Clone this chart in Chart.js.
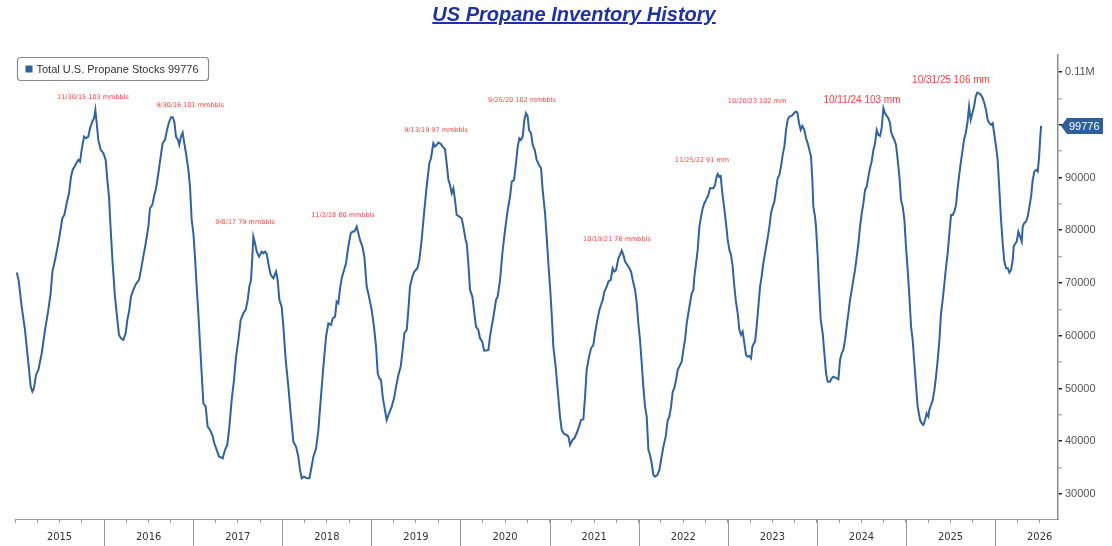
<!DOCTYPE html>
<html>
<head>
<meta charset="utf-8">
<script src="https://cdn.jsdelivr.net/npm/chart.js@4.4.1/dist/chart.umd.min.js"></script>
<style>
  body { margin: 0; background: #fff; }
  #wrap { position: relative; width: 1112px; height: 546px; }
  #title {
    position: absolute; left: 0; top: 3px; width: 1148px; text-align: center;
    font: italic bold 20px "Liberation Sans", Arial, sans-serif; color: #1d33a3;
    text-decoration: underline;
  }
  canvas { position: absolute; left: 0; top: 0; }
</style>
</head>
<body>
<div id="wrap">
  <canvas id="propaneChart" width="1112" height="546"></canvas>
  <div id="title">US Propane Inventory History</div>
</div>
<script>
// weekly stocks, thousand barrels, x = decimal year
const weeks = [
  2015.02, 2015.04, 2015.075, 2015.112, 2015.15, 2015.176, 2015.195, 2015.213, 2015.236, 2015.262,
  2015.30, 2015.337, 2015.374, 2015.40, 2015.42, 2015.449, 2015.479, 2015.505, 2015.531, 2015.554,
  2015.58, 2015.606, 2015.629, 2015.647, 2015.674, 2015.692, 2015.711, 2015.73, 2015.748, 2015.775,
  2015.797, 2015.823, 2015.842, 2015.868, 2015.887, 2015.902, 2015.917, 2015.935, 2015.962, 2015.992,
  2016.018, 2016.036, 2016.055, 2016.074, 2016.096, 2016.122, 2016.149, 2016.167, 2016.19, 2016.216,
  2016.242, 2016.261, 2016.283, 2016.302, 2016.328, 2016.358, 2016.392, 2016.414, 2016.44, 2016.467,
  2016.497, 2016.515, 2016.541, 2016.564, 2016.583, 2016.609, 2016.635, 2016.657, 2016.684, 2016.702,
  2016.725, 2016.751, 2016.77, 2016.788, 2016.807, 2016.826, 2016.844, 2016.863, 2016.882, 2016.897,
  2016.919, 2016.946, 2016.964, 2016.983, 2017.002, 2017.02, 2017.039, 2017.058, 2017.076, 2017.095,
  2017.114, 2017.14, 2017.162, 2017.189, 2017.215, 2017.237, 2017.264, 2017.29, 2017.32,
  2017.331, 2017.357, 2017.383, 2017.406, 2017.432, 2017.458, 2017.481, 2017.507, 2017.533, 2017.563,
  2017.589, 2017.612, 2017.63, 2017.649, 2017.664, 2017.675, 2017.694, 2017.713, 2017.739, 2017.769,
  2017.787, 2017.806, 2017.825, 2017.843, 2017.87, 2017.90, 2017.93, 2017.948, 2017.967, 2017.993,
  2018.012, 2018.038, 2018.068, 2018.094, 2018.124, 2018.154, 2018.18, 2018.199, 2018.218, 2018.244,
  2018.274, 2018.304, 2018.322, 2018.349, 2018.379, 2018.405, 2018.431, 2018.461, 2018.491, 2018.517,
  2018.547, 2018.566, 2018.592, 2018.61, 2018.629, 2018.648, 2018.667, 2018.693, 2018.715, 2018.741,
  2018.768, 2018.79, 2018.809, 2018.835, 2018.854, 2018.872, 2018.899, 2018.921, 2018.947, 2018.973,
  2019.003, 2019.029, 2019.052, 2019.071, 2019.089, 2019.108, 2019.127, 2019.145, 2019.172, 2019.198,
  2019.228, 2019.254, 2019.277, 2019.303, 2019.329, 2019.351, 2019.37, 2019.396, 2019.415, 2019.433,
  2019.46, 2019.482, 2019.516, 2019.538, 2019.564, 2019.591, 2019.62, 2019.65, 2019.669,
  2019.695, 2019.714, 2019.733, 2019.752, 2019.778, 2019.80, 2019.826, 2019.845, 2019.864, 2019.882,
  2019.901, 2019.92, 2019.938, 2019.957, 2019.987, 2020.013, 2020.032, 2020.058, 2020.07, 2020.088,
  2020.107, 2020.133, 2020.156, 2020.174, 2020.20, 2020.219, 2020.245, 2020.264, 2020.294, 2020.313,
  2020.331, 2020.35, 2020.376, 2020.399, 2020.417, 2020.444, 2020.47, 2020.50, 2020.53, 2020.556,
  2020.575, 2020.601, 2020.623, 2020.642, 2020.661, 2020.679, 2020.698, 2020.717, 2020.735, 2020.754,
  2020.769, 2020.792, 2020.81, 2020.833, 2020.855, 2020.881, 2020.904, 2020.922, 2020.949, 2020.967,
  2020.986, 2021.005, 2021.023, 2021.042, 2021.068, 2021.091, 2021.117, 2021.136, 2021.162, 2021.192,
  2021.211, 2021.229, 2021.256, 2021.278, 2021.304, 2021.33, 2021.353, 2021.379, 2021.398, 2021.416,
  2021.443, 2021.465, 2021.491, 2021.51, 2021.536, 2021.559, 2021.577, 2021.596, 2021.615, 2021.641,
  2021.66, 2021.686, 2021.708, 2021.727, 2021.746, 2021.772, 2021.791, 2021.809, 2021.828, 2021.847,
  2021.873, 2021.895, 2021.914, 2021.933, 2021.959, 2021.978, 2021.996, 2022.015, 2022.034, 2022.052,
  2022.071, 2022.09, 2022.109, 2022.127, 2022.146, 2022.165, 2022.183, 2022.21, 2022.232, 2022.251,
  2022.277, 2022.303, 2022.326, 2022.344, 2022.363, 2022.382, 2022.40, 2022.419, 2022.438, 2022.456,
  2022.483, 2022.501, 2022.52, 2022.539, 2022.557, 2022.576, 2022.595, 2022.614, 2022.625, 2022.644,
  2022.662, 2022.681, 2022.70, 2022.718, 2022.737, 2022.756, 2022.782, 2022.801, 2022.819, 2022.838,
  2022.857, 2022.875, 2022.887, 2022.902, 2022.92, 2022.939, 2022.958, 2022.98, 2022.999, 2023.018,
  2023.036, 2023.055, 2023.07, 2023.089, 2023.111, 2023.13, 2023.149, 2023.167, 2023.186, 2023.205,
  2023.223, 2023.242, 2023.261, 2023.276, 2023.294, 2023.306, 2023.324, 2023.343, 2023.362, 2023.38,
  2023.399, 2023.418, 2023.444, 2023.467, 2023.485, 2023.504, 2023.523, 2023.541, 2023.56, 2023.579,
  2023.597, 2023.616, 2023.635, 2023.654, 2023.672, 2023.691, 2023.717, 2023.743, 2023.762, 2023.781,
  2023.80, 2023.818, 2023.837, 2023.859, 2023.878, 2023.897, 2023.916, 2023.934, 2023.949, 2023.96,
  2023.979, 2023.99, 2024.009, 2024.024, 2024.043, 2024.065, 2024.084, 2024.103, 2024.121, 2024.147,
  2024.166, 2024.185, 2024.222, 2024.241, 2024.26, 2024.278, 2024.297, 2024.316, 2024.334, 2024.353,
  2024.372, 2024.391, 2024.409,
  2024.428, 2024.447, 2024.466, 2024.484, 2024.503, 2024.522, 2024.54, 2024.559, 2024.578, 2024.596,
  2024.615, 2024.634, 2024.653, 2024.671, 2024.69, 2024.709, 2024.727, 2024.746, 2024.765, 2024.784,
  2024.802, 2024.821, 2024.832, 2024.851, 2024.87, 2024.888, 2024.907, 2024.926, 2024.944, 2024.963,
  2024.982, 2025.00, 2025.019, 2025.038, 2025.057, 2025.075, 2025.094, 2025.113, 2025.131, 2025.158,
  2025.176, 2025.195, 2025.214, 2025.232, 2025.251, 2025.262, 2025.281, 2025.30, 2025.319, 2025.337,
  2025.356, 2025.375, 2025.393, 2025.412, 2025.431, 2025.45, 2025.468, 2025.487, 2025.506, 2025.524,
  2025.543, 2025.562, 2025.577, 2025.595, 2025.614, 2025.633, 2025.651, 2025.67, 2025.689, 2025.708,
  2025.726, 2025.745, 2025.764, 2025.782, 2025.801, 2025.82, 2025.842, 2025.861, 2025.88, 2025.898,
  2025.917, 2025.936, 2025.955, 2025.973, 2025.992, 2026.011, 2026.029, 2026.048, 2026.067, 2026.085,
  2026.104, 2026.123, 2026.142, 2026.16, 2026.179, 2026.198, 2026.209, 2026.228, 2026.243, 2026.261,
  2026.28, 2026.299, 2026.31, 2026.325, 2026.347, 2026.366, 2026.385, 2026.404, 2026.422, 2026.441,
  2026.46, 2026.479, 2026.494, 2026.505, 2026.516
];

const stocks = [
  72000, 70600, 65500, 61100, 54800, 50360, 49410, 50040, 52570, 53520,
  56680, 61100, 64890, 68050, 72160, 74370, 76900, 79430, 82270, 82900,
  85120, 87010, 90170, 91440, 92200, 92830, 93330, 93020, 95230, 97760,
  97440, 97760, 99340, 100600, 101230, 102810, 100280, 97120, 95230, 94600,
  93330, 89540, 86380, 80060, 73740, 67420, 63000, 60150, 59520, 59200,
  60470, 63000, 64890, 67420, 68680, 69820, 70580, 72480, 75000, 77530,
  80690, 84170, 84800, 86700, 87960, 90800, 93960, 96490, 97120, 98700,
  100280, 101420, 101420, 100600, 97760, 97250, 96180, 97760, 98510, 96810,
  94600, 91440, 88280, 81960, 79430, 75000, 69320, 64260, 58570, 52880,
  47200, 46560, 42770, 42140, 41190, 39610, 38350, 37080, 36900,
  36770, 38350, 39300, 42770, 47830, 51620, 56040, 59200, 63000, 64260,
  64890, 66790, 69320, 70580, 75000, 78800, 77530, 75950, 75000, 75950,
  75640, 75950, 75510, 73740, 71530, 70900, 72160, 70580, 66790, 65520,
  61730, 55410, 50360, 45300, 39930, 38980, 37080, 34560, 32980, 33290,
  32980, 32980, 34560, 37080, 38660, 42140, 47830, 54150, 59840, 62360,
  62050, 63310, 63630, 66470, 66160, 69000, 70900, 72480, 73740, 76900,
  79430, 79740, 79740, 80690, 79430, 78160, 76900, 75000, 69320, 67420,
  64890, 61730, 57940, 52880, 51940, 51620, 48460, 46560, 44030, 45300,
  46560, 48140, 50360, 52570, 54150, 57310, 60470, 61100, 64890, 69320,
  71210, 72160, 72790, 74370, 78160, 83220, 88280, 92700, 93650,
  96490, 95860, 96180, 96620, 96370, 95860, 95350, 92700, 89540, 88590,
  87010, 87960, 85750, 82900, 82590, 82270, 80690, 78160, 77530, 73740,
  68680, 67420, 64260, 61730, 61100, 59520, 58890, 57180, 57180, 57310,
  59840, 61730, 64260, 66790, 67420, 70580, 75640, 80060, 83850, 86380,
  89220, 89540, 92700, 95860, 97440, 97120, 97760, 100920, 102180, 101550,
  99020, 98390, 96180, 95230, 93330, 92380, 91750, 87640, 83220, 78800,
  73740, 69320, 64260, 57940, 54150, 49720, 44670, 42140, 41380, 41190,
  40880, 39300, 40240, 40560, 41510, 42770, 44030, 44160, 48460, 53520,
  56040, 57620, 58250, 60470, 63000, 64890, 65840, 66790, 68370, 69320,
  70260, 70580, 72790, 72160, 72480, 74690, 75320, 76140, 75320, 74060,
  73420, 72790, 72160, 70580, 68680, 66160, 62360, 59200, 54780, 50360,
  46560, 44670, 38350, 37400, 35820, 33610, 33290, 33610, 34560, 36450,
  38980, 40880, 44030, 44670, 46560, 49410, 50040, 51620, 53520, 54150,
  55100, 57310, 59200, 62360, 64260, 66160, 68050, 68680, 71210, 73740,
  76270, 80690, 82590, 84170, 85120, 85750, 86700, 87960, 87960, 87960,
  88590, 90170, 90680, 90170, 90300, 87010, 84480, 81320, 78160, 76270,
  75320, 73110, 69950, 66790, 64260, 61100, 60150, 60780, 58570, 56360,
  56040, 56170, 55730, 57940, 58570, 58890, 61730, 65520, 69320, 71210,
  73740, 75640, 78160, 80690, 83220, 84480, 85430, 87640, 89860, 90490,
  92070, 94280, 95860, 99020, 100920, 101550, 101680, 102180, 102500, 102310,
  100280, 99020, 99780, 99020, 97440, 96490, 95230, 93960, 89540, 84480,
  82590, 80690, 75000, 69320, 63000, 60470, 56680, 52880, 51300, 51300,
  51940, 52250, 51940, 51750, 55410, 56680, 57310, 59200, 61730, 64260,
  66790, 68680, 70580,
  72480, 75000, 77530, 80690, 83220, 85120, 87640, 88280, 90170, 91750,
  93020, 95230, 96490, 99020, 98070, 97880, 99340, 103130, 102180, 101680,
  101230, 100280, 98700, 97760, 97120, 96180, 93330, 90170, 85750, 84480,
  81960, 76900, 72480, 67420, 61730, 59200, 54780, 50360, 46560, 44030,
  43400, 43090, 44030, 45300, 44670, 45930, 46880, 47830, 49720, 52250,
  55410, 59200, 64260, 66790, 69950, 73110, 75640, 79430, 82900, 82900,
  83540, 84800, 87640, 90170, 92700, 94910, 97120, 98390, 100280, 103440,
  100920, 102180, 103440, 105340, 106100, 105970, 105660, 105020, 104080, 102810,
  100920, 100280, 99970, 100280, 98070, 95860, 93330, 87640, 81960, 77530,
  74060, 72790, 72790, 71970, 72480, 74370, 76900, 77530, 77850, 79740,
  78800, 77850, 80690, 81320, 81640, 82590, 84480, 86380, 89540, 91120,
  91440, 91120, 93960, 97120, 99776
];

// peak call-outs
const peakText = [
  '11/30/15 103 mmbbls', '9/30/16 101 mmbbls', '9/8/17 79 mmbbls', '11/2/18 80 mmbbls',
  '9/13/19 97 mmbbls', '9/25/20 102 mmbbls', '10/19/21 76 mmbbls', '11/25/22 91 mm',
  '10/20/23 102 mm', '10/11/24 103 mm', '10/31/25 106 mm'
];
const peakX = [2015.875, 2016.964, 2017.581, 2018.681, 2019.725, 2020.690, 2021.756, 2022.710, 2023.328, 2024.506, 2025.505];
const peakY = [105260, 103740, 81560, 82890, 99000, 104690, 78340, 93320, 104500, 104690, 108480];

const yearTicks = [2015, 2016, 2017, 2018, 2019, 2020, 2021, 2022, 2023, 2024, 2025, 2026];

const lineBlue = '#2f62a0';

const extras = {
    id: 'extras',
    afterDraw(chart) {
        const ctx = chart.ctx;
        const area = chart.chartArea;
        const xs = chart.scales.x;
        const ys = chart.scales.y;
        ctx.save();

        // year dividers under the axis
        ctx.strokeStyle = '#9a9a9a';
        ctx.lineWidth = 1;
        ctx.beginPath();
        yearTicks.slice(1).forEach(yr => {
            const px = Math.round(xs.getPixelForValue(yr)) + 0.5;
            ctx.moveTo(px, area.bottom);
            ctx.lineTo(px, chart.height);
        });
        ctx.stroke();

        // peak labels
        ctx.fillStyle = '#ff3b3b';
        ctx.textAlign = 'center';
        ctx.textBaseline = 'middle';
        peakText.forEach((t, i) => {
            const big = i >= 9;
            ctx.font = big ? '10px "Liberation Sans", Arial' : '6.5px "DejaVu Sans", sans-serif';
            ctx.fillText(t, xs.getPixelForValue(peakX[i]), ys.getPixelForValue(peakY[i]));
        });

        // last value tag on the axis
        const last = stocks[stocks.length - 1];
        const py = Math.round(ys.getPixelForValue(last));
        const bx = area.right + 3;
        ctx.fillStyle = '#2d5f9a';
        ctx.beginPath();
        ctx.moveTo(bx, py);
        ctx.lineTo(bx + 6, py - 8);
        ctx.lineTo(bx + 42, py - 8);
        ctx.lineTo(bx + 42, py + 8);
        ctx.lineTo(bx + 6, py + 8);
        ctx.closePath();
        ctx.fill();
        ctx.fillStyle = '#fff';
        ctx.font = '11px "Liberation Sans", Arial';
        ctx.textAlign = 'left';
        ctx.fillText(String(last), bx + 8, py + 0.5);

        // legend box inside the plot, top left
        const label = chart.data.datasets[0].label;
        ctx.font = '11px "Liberation Sans", Arial';
        const tw = ctx.measureText(label).width;
        const lx = area.left + 2.5;
        const ly = area.top + 2.5;
        ctx.strokeStyle = '#8c8c8c';
        ctx.lineWidth = 1.2;
        ctx.beginPath();
        ctx.roundRect(lx, ly, tw + 29, 23, 3);
        ctx.stroke();
        ctx.fillStyle = lineBlue;
        ctx.fillRect(lx + 8, ly + 8, 7, 7);
        ctx.fillStyle = '#333';
        ctx.fillText(label, lx + 19, ly + 12);
        ctx.restore();
    }
};

const propaneCtx = document.getElementById('propaneChart').getContext('2d');
const propaneChart = new Chart(propaneCtx, {
    type: 'line',
    data: {
        datasets: [{
            label: 'Total U.S. Propane Stocks 99776',
            data: weeks.map((w, i) => ({ x: w, y: stocks[i] })),
            borderColor: lineBlue,
            backgroundColor: lineBlue,
            borderWidth: 2,
            pointRadius: 0,
            tension: 0
        }]
    },
    options: {
        responsive: false,
        animation: false,
        devicePixelRatio: 1,
        layout: { padding: { left: 15, top: 55, right: 0, bottom: 0 } },
        plugins: {
            title: { display: false },
            tooltip: { enabled: false },
            legend: { display: false }
        },
        scales: {
            x: {
                type: 'linear',
                min: 2015,
                max: 2026.706,
                afterFit: s => { s.height = 27; },
                afterBuildTicks: s => {
                    const t = [];
                    for (let q = 2015 * 4; q / 4 <= 2026.706; q++) t.push({ value: q / 4 });
                    s.ticks = t;
                },
                ticks: {
                    autoSkip: false,
                    maxRotation: 0,
                    padding: 8,
                    color: '#333',
                    font: { family: '"Liberation Sans Narrow", "DejaVu Sans Condensed", Arial', size: 11 },
                    callback: v => (Math.abs(v % 1 - 0.5) < 1e-6 ? String(Math.floor(v)) : '')
                },
                grid: { drawOnChartArea: false, tickLength: 4, color: '#9a9a9a' },
                border: { color: '#9a9a9a', width: 1 }
            },
            y: {
                position: 'right',
                min: 25260,
                max: 113220,
                afterFit: s => { s.width = 54; },
                afterBuildTicks: s => {
                    const t = [];
                    for (let v = 30000; v <= 110000; v += 5000) t.push({ value: v });
                    s.ticks = t;
                },
                ticks: {
                    padding: 3,
                    color: '#555',
                    font: { family: '"Liberation Sans", Arial', size: 11 },
                    callback: v => (v % 10000 ? '' : (v === 110000 ? '0.11M' : String(v)))
                },
                grid: {
                    drawOnChartArea: false,
                    tickLength: 4,
                    lineWidth: 1.5,
                    tickColor: c => (c.tick && c.tick.value % 10000 === 0 ? '#222' : '#b0b0b0')
                },
                border: { color: '#8c8c8c', width: 1.5 }
            }
        }
    },
    plugins: [extras]
});
</script>
</body>
</html>
